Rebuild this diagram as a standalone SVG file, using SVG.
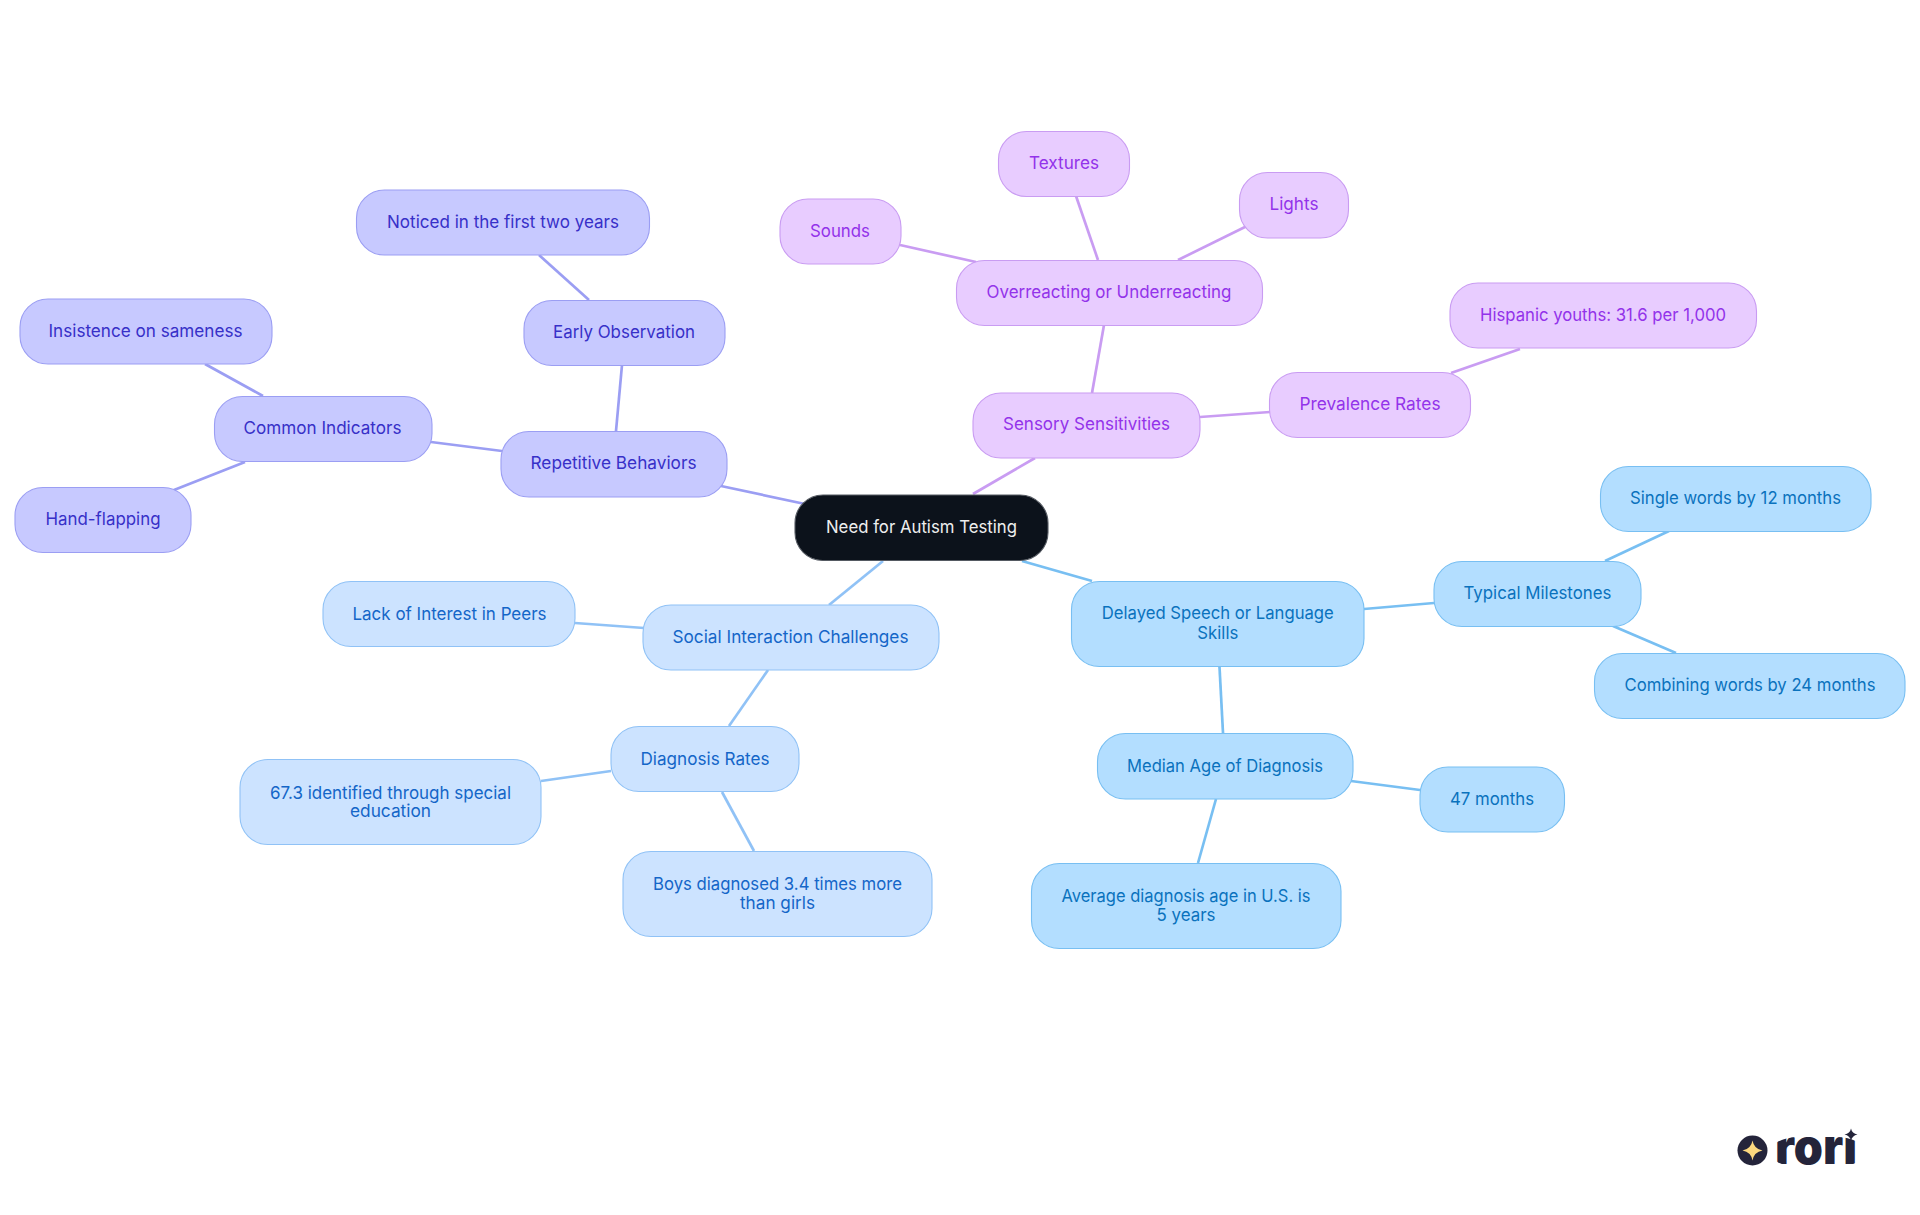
<svg xmlns="http://www.w3.org/2000/svg" width="1920" height="1215" viewBox="0 0 1920 1215">
<defs><clipPath id="logo-clip"><rect x="1770" y="1137" width="95" height="30" style="stroke:none"/></clipPath></defs>
<style>
text{font-family:"Inter","Noto Sans",sans-serif;font-size:17.5px;text-anchor:middle}
rect{rx:28px;ry:28px;stroke-width:1.1}
#connectors line{stroke-width:2.7;fill:none}
.c-v line{stroke:#c99cf2}.c-i line{stroke:#9b9ef3}.c-l line{stroke:#90c2f6}.c-s line{stroke:#78bff2}
.v rect{fill:#e8ccff;stroke:#c99cf2}.v text{fill:#9333ea}
.i rect{fill:#c7c9ff;stroke:#9b9ef3}.i text{fill:#3730c8}
.l rect{fill:#cce3ff;stroke:#90c2f6}.l text{fill:#1466c8}
.s rect{fill:#b3deff;stroke:#78bff2}.s text{fill:#0a72bd}
.r rect{fill:#0c121b;stroke:#555a62}.r text{fill:#eeeeee}
</style>
<g id="connectors">
<g class="c-v">
<line x1="973" y1="494" x2="1035" y2="458"/>
<line x1="1092" y1="393" x2="1104" y2="325"/>
<line x1="900" y1="245" x2="976" y2="262"/>
<line x1="1076" y1="196" x2="1098" y2="260"/>
<line x1="1247" y1="226" x2="1178" y2="260"/>
<line x1="1200" y1="417" x2="1270" y2="412"/>
<line x1="1451" y1="373" x2="1520" y2="349"/>
</g>
<g class="c-i">
<line x1="721" y1="486" x2="805" y2="504"/>
<line x1="616" y1="431" x2="622" y2="365"/>
<line x1="589" y1="300" x2="539" y2="255"/>
<line x1="502" y1="451" x2="431" y2="442"/>
<line x1="263" y1="396" x2="205" y2="364"/>
<line x1="245" y1="462" x2="174" y2="490"/>
</g>
<g class="c-l">
<line x1="883" y1="561" x2="829" y2="605"/>
<line x1="575" y1="623" x2="644" y2="628"/>
<line x1="768" y1="670" x2="729" y2="726"/>
<line x1="541" y1="781" x2="611" y2="771"/>
<line x1="722" y1="792" x2="754" y2="851"/>
</g>
<g class="c-s">
<line x1="1022" y1="561" x2="1092" y2="581"/>
<line x1="1364" y1="609" x2="1434" y2="603"/>
<line x1="1605" y1="561" x2="1669" y2="531"/>
<line x1="1613" y1="626" x2="1676" y2="653"/>
<line x1="1219.500" y1="667" x2="1223" y2="733"/>
<line x1="1351" y1="781" x2="1420" y2="790"/>
<line x1="1216" y1="799" x2="1198" y2="863"/>
</g>
</g>
<g id="root" class="r"><rect x="795" y="495" width="253" height="65.500"/><text x="921.500" y="533" textLength="191" lengthAdjust="spacingAndGlyphs">Need for Autism Testing</text></g>

<g id="sensory" class="v"><rect x="973" y="393" width="227" height="65"/><text x="1086.500" y="430" textLength="167" lengthAdjust="spacingAndGlyphs">Sensory Sensitivities</text></g>
<g id="overreacting" class="v"><rect x="956.500" y="260.500" width="306" height="65"/><text x="1109" y="297.500" textLength="245" lengthAdjust="spacingAndGlyphs">Overreacting or Underreacting</text></g>
<g id="sounds" class="v"><rect x="780" y="199" width="121" height="65"/><text x="840" y="236.500" textLength="60" lengthAdjust="spacingAndGlyphs">Sounds</text></g>
<g id="textures" class="v"><rect x="998.500" y="131.500" width="131" height="65"/><text x="1064" y="168.500" textLength="70" lengthAdjust="spacingAndGlyphs">Textures</text></g>
<g id="lights" class="v"><rect x="1239.500" y="172.500" width="109" height="65.500"/><text x="1294" y="210" textLength="49" lengthAdjust="spacingAndGlyphs">Lights</text></g>
<g id="prevalence" class="v"><rect x="1269.500" y="372.500" width="201" height="65"/><text x="1370" y="410" textLength="141" lengthAdjust="spacingAndGlyphs">Prevalence Rates</text></g>
<g id="hispanic" class="v"><rect x="1450" y="283" width="306.500" height="65"/><text x="1603" y="320.500" textLength="246" lengthAdjust="spacingAndGlyphs">Hispanic youths: 31.6 per 1,000</text></g>

<g id="repetitive" class="i"><rect x="501" y="431.500" width="226" height="65.500"/><text x="613.500" y="469" textLength="166" lengthAdjust="spacingAndGlyphs">Repetitive Behaviors</text></g>
<g id="early" class="i"><rect x="524" y="300.500" width="201" height="65"/><text x="624" y="337.500" textLength="142" lengthAdjust="spacingAndGlyphs">Early Observation</text></g>
<g id="noticed" class="i"><rect x="356.500" y="190" width="293" height="65"/><text x="503" y="227.500" textLength="232" lengthAdjust="spacingAndGlyphs">Noticed in the first two years</text></g>
<g id="common" class="i"><rect x="214.500" y="396.500" width="217.500" height="65"/><text x="322.500" y="434" textLength="158" lengthAdjust="spacingAndGlyphs">Common Indicators</text></g>
<g id="insistence" class="i"><rect x="20" y="299" width="252" height="65"/><text x="145.500" y="336.500" textLength="194" lengthAdjust="spacingAndGlyphs">Insistence on sameness</text></g>
<g id="hand" class="i"><rect x="15" y="487.500" width="176" height="65"/><text x="103" y="524.500" textLength="115" lengthAdjust="spacingAndGlyphs">Hand-flapping</text></g>

<g id="social" class="l"><rect x="643" y="605" width="296" height="65"/><text x="790.500" y="642.500" textLength="236" lengthAdjust="spacingAndGlyphs">Social Interaction Challenges</text></g>
<g id="lack" class="l"><rect x="323" y="581.500" width="252" height="65"/><text x="449.500" y="619.700" textLength="194" lengthAdjust="spacingAndGlyphs">Lack of Interest in Peers</text></g>
<g id="diagnosis" class="l"><rect x="611" y="726.500" width="188" height="65"/><text x="705" y="764.700" textLength="129" lengthAdjust="spacingAndGlyphs">Diagnosis Rates</text></g>
<g id="special" class="l"><rect x="240" y="759.500" width="301" height="85"/><text x="390.500" y="798.500" textLength="241" lengthAdjust="spacingAndGlyphs">67.3 identified through special</text><text x="390.500" y="816.800" textLength="81" lengthAdjust="spacingAndGlyphs">education</text></g>
<g id="boys" class="l"><rect x="623" y="851.500" width="309" height="85"/><text x="777.500" y="890" textLength="249" lengthAdjust="spacingAndGlyphs">Boys diagnosed 3.4 times more</text><text x="777.500" y="908.500" textLength="75" lengthAdjust="spacingAndGlyphs">than girls</text></g>

<g id="delayed" class="s"><rect x="1071.500" y="581.500" width="292.500" height="85"/><text x="1217.800" y="619" textLength="232" lengthAdjust="spacingAndGlyphs">Delayed Speech or Language</text><text x="1217.800" y="638.500" textLength="41" lengthAdjust="spacingAndGlyphs">Skills</text></g>
<g id="typical" class="s"><rect x="1434" y="561.500" width="207" height="65"/><text x="1537.500" y="598.500" textLength="148" lengthAdjust="spacingAndGlyphs">Typical Milestones</text></g>
<g id="single" class="s"><rect x="1600.500" y="466.500" width="270.500" height="65"/><text x="1735.500" y="504" textLength="211" lengthAdjust="spacingAndGlyphs">Single words by 12 months</text></g>
<g id="combining" class="s"><rect x="1594.500" y="653.500" width="310.500" height="65"/><text x="1750" y="690.500" textLength="251" lengthAdjust="spacingAndGlyphs">Combining words by 24 months</text></g>
<g id="median" class="s"><rect x="1097.500" y="733.500" width="255.500" height="65.500"/><text x="1225" y="771.700" textLength="196" lengthAdjust="spacingAndGlyphs">Median Age of Diagnosis</text></g>
<g id="months" class="s"><rect x="1420" y="767" width="144.500" height="65"/><text x="1492" y="804.500" textLength="84" lengthAdjust="spacingAndGlyphs">47 months</text></g>
<g id="average" class="s"><rect x="1031.500" y="863.500" width="309.500" height="85"/><text x="1186" y="902" textLength="249" lengthAdjust="spacingAndGlyphs">Average diagnosis age in U.S. is</text><text x="1186" y="920.500" textLength="59" lengthAdjust="spacingAndGlyphs">5 years</text></g>

<g id="logo">
<circle cx="1752.500" cy="1150.500" r="15" fill="#24243a"/>
<path d="M1752.500 1140.500Q1754 1149 1762.500 1150.500Q1754 1152 1752.500 1160.500Q1751 1152 1742.500 1150.500Q1751 1149 1752.500 1140.500Z" fill="#fcd87f"/>
<text x="1775" y="1164" textLength="82" lengthAdjust="spacingAndGlyphs" clip-path="url(#logo-clip)" style="font-family:'Inter',sans-serif;font-size:49px;font-weight:900;fill:#24243a;text-anchor:start">rori</text>
<path d="M1851 1128.500Q1852 1133.500 1857.500 1134.500Q1852 1135.500 1851 1141Q1850 1135.500 1844.500 1134.500Q1850 1133.500 1851 1128.500Z" fill="#24243a"/>
</g>
</svg>
